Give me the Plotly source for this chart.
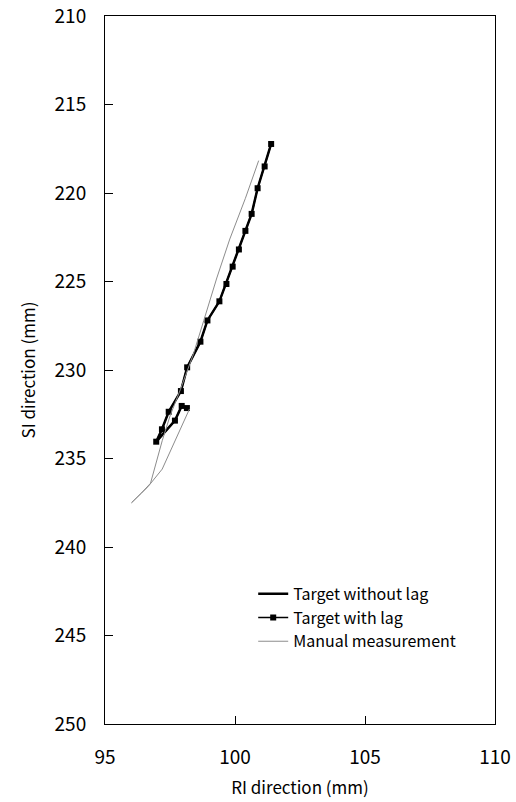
import plotly.graph_objects as go

# Target without lag (RI, SI in mm)
nolag_x = [101.39, 101.14, 100.87, 100.64, 100.40, 100.15, 99.91, 99.67, 99.40, 98.94,
           98.67, 98.16, 97.92, 97.45, 97.19, 96.97, 97.69, 97.95, 98.15]
nolag_y = [217.23, 218.50, 219.73, 221.18, 222.14, 223.19, 224.16, 225.14, 226.12, 227.20,
           228.40, 229.85, 231.19, 232.36, 233.35, 234.05, 232.86, 232.03, 232.15]

# Target with lag
lag_x = [101.39, 101.14, 100.87, 100.64, 100.40, 100.15, 99.91, 99.67, 99.40, 98.94,
         98.67, 98.16, 97.92, 97.45, 97.19, 96.97, 97.69, 97.95, 98.15]
lag_y = [217.23, 218.50, 219.73, 221.18, 222.14, 223.19, 224.16, 225.14, 226.12, 227.20,
         228.40, 229.85, 231.19, 232.36, 233.35, 234.05, 232.86, 232.03, 232.15]

# Manual measurement
man_x = [100.91, 100.40, 99.80, 99.30, 98.80, 98.40, 97.90, 97.50, 97.20, 96.95, 96.75,
         96.40, 96.02, 96.30, 96.65, 97.20, 97.70, 98.25]
man_y = [218.17, 220.30, 222.60, 224.80, 227.20, 229.10, 231.10, 232.60, 234.00, 235.30, 236.40,
         236.95, 237.50, 237.10, 236.60, 235.60, 234.00, 232.20]

FONT = "Noto Sans CJK JP"

fig = go.Figure()
fig.add_trace(go.Scatter(x=nolag_x, y=nolag_y, mode="lines", name="Target without lag",
                         line=dict(color="black", width=2.5)))
fig.add_trace(go.Scatter(x=lag_x, y=lag_y, mode="lines+markers", name="Target with lag",
                         line=dict(color="black", width=1.5),
                         marker=dict(symbol="square", size=6, color="black")))
fig.add_trace(go.Scatter(x=man_x, y=man_y, mode="lines", name="Manual measurement",
                         line=dict(color="#8c8c8c", width=1)))

axis_common = dict(showline=True, linecolor="black", linewidth=1, mirror=True,
                   ticks="inside", ticklen=8, tickcolor="black", showgrid=False,
                   zeroline=False, automargin=False,
                   tickfont=dict(family=FONT, size=19, color="black"))

fig.update_layout(
    width=516, height=802,
    margin=dict(l=105, r=21, t=16, b=78),
    paper_bgcolor="white", plot_bgcolor="white",
    font=dict(family=FONT, color="black"),
    showlegend=True,
    legend=dict(x=0.38, y=0.208, xanchor="left", yanchor="top",
                bgcolor="rgba(0,0,0,0)", font=dict(family=FONT, size=16, color="black")),
    xaxis=dict(range=[95, 110], dtick=5, tick0=95,
               title=dict(text="RI direction (mm)", font=dict(family=FONT, size=17), standoff=14),
               ticklabelstandoff=16,
               **axis_common),
    yaxis=dict(range=[250, 210], dtick=5, tick0=210,
               title=dict(text="SI direction (mm)", font=dict(family=FONT, size=17), standoff=14),
               ticklabelstandoff=14,
               **axis_common),
)

fig.write_html("out.html")
